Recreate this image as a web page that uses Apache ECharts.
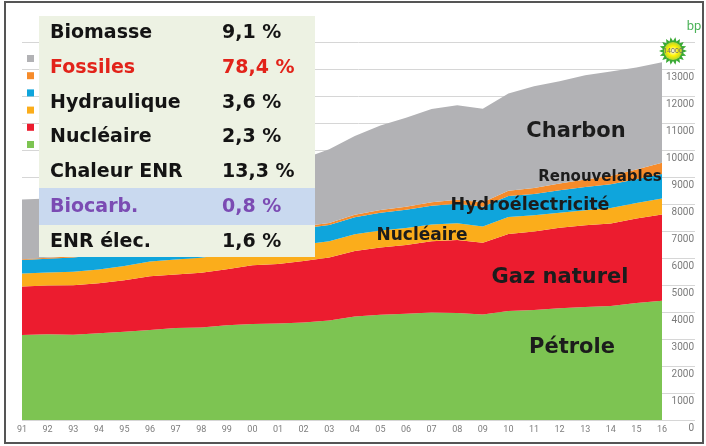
<!DOCTYPE html>
<html>
<head>
<meta charset="utf-8">
<style>
  html, body { margin: 0; padding: 0; background: #fff; }
  #chart { width: 706px; height: 446px; }
</style>
<script src="https://cdn.jsdelivr.net/npm/echarts@6/dist/echarts.min.js"></script>
</head>
<body>
<div id="chart"></div>
<script>
// Consommation mondiale d'énergie primaire (Mtep), 1991-2016
const years = ["91", "92", "93", "94", "95", "96", "97", "98", "99", "00", "01", "02", "03",
    "04", "05", "06", "07", "08", "09", "10", "11", "12", "13", "14", "15", "16"];

const petrole = [3150, 3180, 3160, 3220, 3270, 3340, 3410, 3430, 3510, 3560, 3580, 3620, 3690,
    3840, 3900, 3940, 3990, 3970, 3910, 4040, 4080, 4140, 4190, 4230, 4340, 4420];
const gaz = [1800, 1810, 1840, 1850, 1910, 1990, 1990, 2030, 2080, 2180, 2210, 2280, 2340,
    2430, 2500, 2550, 2640, 2710, 2660, 2860, 2910, 2990, 3030, 3060, 3130, 3200];
const nucleaire = [480, 480, 500, 510, 530, 550, 550, 560, 570, 580, 600, 610, 600,
    620, 630, 630, 620, 620, 610, 630, 600, 560, 560, 570, 580, 590];
const hydro = [500, 510, 530, 540, 560, 570, 580, 580, 590, 600, 590, 600, 600,
    630, 660, 680, 700, 720, 730, 780, 790, 830, 860, 880, 880, 910];
const renouvelables = [35, 37, 40, 43, 46, 49, 53, 57, 60, 65, 70, 75, 80,
    90, 100, 110, 125, 145, 165, 190, 220, 250, 280, 320, 360, 420];
const charbon = [2210, 2200, 2200, 2220, 2260, 2290, 2290, 2270, 2300, 2380, 2410, 2510, 2730,
    2920, 3130, 3300, 3460, 3510, 3470, 3610, 3780, 3790, 3870, 3860, 3780, 3730];

// encadré des parts
const tableNames = ["Biomasse", "Fossiles", "Hydraulique", "Nucléaire", "Chaleur ENR", "Biocarb.", "ENR élec."];
const tableValues = ["9,1 %", "78,4 %", "3,6 %", "2,3 %", "13,3 %", "0,8 %", "1,6 %"];

const layers = [
    { name: "Pétrole", data: petrole, color: "#7dc452" },
    { name: "Gaz naturel", data: gaz, color: "#ec1c2f" },
    { name: "Nucléaire", data: nucleaire, color: "#fbad1b" },
    { name: "Hydroélectricité", data: hydro, color: "#0fa5dc" },
    { name: "Renouvelables", data: renouvelables, color: "#f68b2a" },
    { name: "Charbon", data: charbon, color: "#b2b2b5" }
];

const chart = echarts.init(document.getElementById("chart"));

const labelFont = "DejaVu Sans";
const areaLabels = [
    { text: "Charbon", x: 576, y: 132, size: 21 },
    { text: "Renouvelables", x: 600, y: 177, size: 15 },
    { text: "Hydroélectricité", x: 530, y: 205, size: 17.5 },
    { text: "Nucléaire", x: 422, y: 236, size: 17 },
    { text: "Gaz naturel", x: 560, y: 278, size: 21 },
    { text: "Pétrole", x: 572, y: 348, size: 21 }
];

function tableGraphic() {
    const rowH = 34.8;
    const els = [
        { type: "rect", z: 100, shape: { x: 39, y: 16, width: 276, height: 241 }, style: { fill: "#edf2e3" } },
        { type: "rect", z: 101, shape: { x: 39, y: 16 + 5 * rowH - 2, width: 276, height: 37 }, style: { fill: "#c9d9ef" } }
    ];
    tableNames.forEach((name, i) => {
        let color = "#141414";
        if (name === "Fossiles") color = "#e2231a";
        if (name === "Biocarb.") color = "#7b4bb3";
        const cy = 33 + rowH * i;
        els.push({
            type: "text", z: 102, x: 50, y: cy,
            style: { text: name, fill: color, font: "bold 19px " + labelFont, verticalAlign: "middle" }
        });
        els.push({
            type: "text", z: 102, x: 222, y: cy,
            style: { text: tableValues[i], fill: color, font: "bold 19px " + labelFont, verticalAlign: "middle" }
        });
    });
    return els;
}

function logoGraphic() {
    const pts = [];
    const n = 18;
    for (let i = 0; i < n * 2; i++) {
        const r = i % 2 === 0 ? 14 : 10;
        const a = (Math.PI * i) / n;
        pts.push([673 + Math.cos(a) * r, 51 + Math.sin(a) * r]);
    }
    return [
        { type: "polygon", z: 100, shape: { points: pts }, style: { fill: "#3aaa35" } },
        {
            type: "circle", z: 101, shape: { cx: 673, cy: 51, r: 9 },
            style: {
                fill: {
                    type: "radial", x: 0.5, y: 0.5, r: 0.5,
                    colorStops: [
                        { offset: 0, color: "#ffffff" },
                        { offset: 0.55, color: "#fff200" },
                        { offset: 1, color: "#b5d335" }
                    ]
                }
            }
        },
        {
            type: "text", z: 102, x: 673, y: 51,
            style: { text: "14000", fill: "#6b6b6b", font: "7px Roboto", align: "center", verticalAlign: "middle" }
        },
        {
            type: "text", z: 102, x: 694, y: 27,
            style: { text: "bp", fill: "#4db35a", font: "13px Roboto", align: "center", verticalAlign: "middle" }
        }
    ];
}

const option = {
    backgroundColor: "#ffffff",
    animation: false,
    grid: [
        // aires
        { left: 22, right: 44, top: 42.5, bottom: 26 },
        // quadrillage et graduations, plus large
        { left: 22, right: 11, top: 42.5, bottom: 26 }
    ],
    legend: {
        orient: "vertical",
        left: 22,
        top: 50,
        itemWidth: 7,
        itemHeight: 7,
        itemGap: 10.2,
        icon: "rect",
        selectedMode: false,
        data: layers.map((l) => l.name).reverse(),
        formatter: () => " ",
        textStyle: { fontSize: 7, lineHeight: 7 }
    },
    xAxis: [
        {
            gridIndex: 0,
            type: "category",
            data: years,
            boundaryGap: false,
            axisLine: { show: false },
            axisTick: { show: false },
            splitLine: { show: false },
            axisLabel: { margin: 5, fontSize: 9, fontFamily: "Roboto", color: "#7d7d7d", interval: 0 }
        },
        {
            gridIndex: 1,
            type: "value",
            min: 0,
            max: 1,
            show: false
        }
    ],
    yAxis: [
        {
            gridIndex: 0,
            type: "value",
            min: 0,
            max: 14000,
            interval: 1000,
            show: false,
            splitLine: { show: false }
        },
        {
            gridIndex: 1,
            type: "value",
            position: "right",
            min: 0,
            max: 14000,
            interval: 1000,
            axisLine: { show: false },
            axisTick: { show: false },
            splitLine: { lineStyle: { color: "#d6d6d6", width: 1 } },
            axisLabel: {
                inside: true,
                margin: 1,
                verticalAlign: "top",
                padding: [3, 0, 0, 0],
                fontSize: 10,
                fontFamily: "Roboto",
                color: "#7a7a7a",
                formatter: (v) => (v === 14000 ? "" : String(v))
            }
        }
    ],
    series: layers.map((l) => ({
        name: l.name,
        type: "line",
        xAxisIndex: 0,
        yAxisIndex: 0,
        stack: "total",
        symbol: "none",
        lineStyle: { width: 0 },
        itemStyle: { color: l.color },
        areaStyle: { color: l.color, opacity: 1 },
        data: l.data
    })),
    graphic: [
        ...areaLabels.map((t) => ({
            type: "text", x: t.x, y: t.y, z: 90,
            style: {
                text: t.text, fill: "#1c1c1c",
                font: "bold " + t.size + "px " + labelFont,
                align: "center", verticalAlign: "middle"
            }
        })),
        ...tableGraphic(),
        ...logoGraphic(),
        {
            type: "rect", z: 110,
            shape: { x: 5, y: 2, width: 698, height: 441 },
            style: { fill: null, stroke: "#555555", lineWidth: 2 }
        }
    ]
};

chart.setOption(option);
</script>
</body>
</html>
